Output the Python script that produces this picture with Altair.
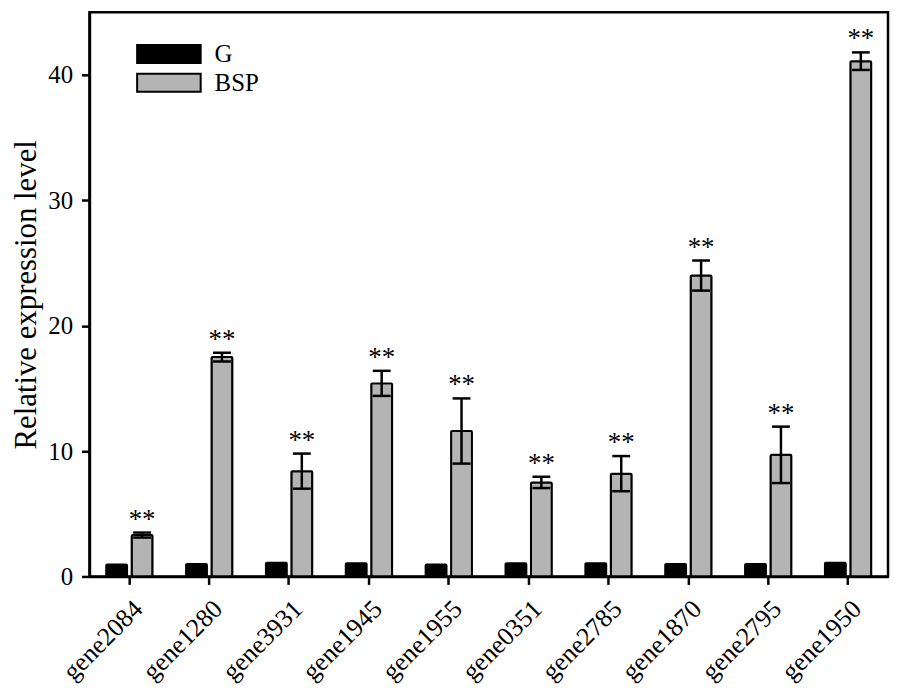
import altair as alt
import pandas as pd

genes = ["gene2084", "gene1280", "gene3931", "gene1945", "gene1955",
         "gene0351", "gene2785", "gene1870", "gene2795", "gene1950"]
groups = ["G", "BSP"]
g_mean = [0.95, 1.0, 1.1, 1.05, 0.95, 1.05, 1.05, 1.0, 1.0, 1.1]
bsp_mean = [3.3, 17.5, 8.4, 15.4, 11.6, 7.5, 8.2, 24.0, 9.7, 41.1]
bsp_err = [0.2, 0.35, 1.4, 1.0, 2.6, 0.45, 1.4, 1.2, 2.25, 0.7]
y_ticks = [0, 10, 20, 30, 40]

rows = []
for i, gname in enumerate(genes):
    rows.append({"gene": gname, "group": "G", "mean": g_mean[i], "err": 0.0})
    rows.append({"gene": gname, "group": "BSP", "mean": bsp_mean[i], "err": bsp_err[i]})
df = pd.DataFrame(rows)

SERIF = "Liberation Serif"
YT = "Relative expression level"

x_enc = alt.X("gene:N", sort=genes, title=None,
              scale=alt.Scale(paddingInner=0.42, paddingOuter=0.21),
              axis=alt.Axis(labelAngle=-45, labelPadding=11, labelFontSize=26))
xo_enc = alt.XOffset("group:N", sort=groups,
                     scale=alt.Scale(domain=groups, paddingInner=0.18, paddingOuter=0))
y_scale = alt.Scale(domain=[0, 45], nice=False, zero=True)

base = alt.Chart(df)

bars = base.mark_bar(stroke="black", strokeWidth=2, strokeJoin="round", cornerRadius=1).encode(
    x=x_enc, xOffset=xo_enc,
    y=alt.Y("mean:Q", scale=y_scale, title=YT,
            axis=alt.Axis(values=y_ticks, labelPadding=9, titlePadding=5)),
    color=alt.Color("group:N", sort=groups,
                    scale=alt.Scale(domain=groups, range=["#000000", "#b4b4b4"]),
                    legend=alt.Legend(title=None, orient="none", legendX=64, legendY=26,
                                      symbolType="M-2.133,-0.6H2.133V0.6H-2.133Z",
                                      symbolSize=900, symbolStrokeColor="black",
                                      symbolStrokeWidth=2, symbolOpacity=1,
                                      labelFont=SERIF, labelFontSize=25, labelColor="black",
                                      labelOffset=30, rowPadding=0, padding=0)),
)

errs = base.transform_filter("datum.group == 'BSP'").transform_calculate(
    lo="datum.mean - datum.err", hi="datum.mean + datum.err")

rule = errs.mark_rule(color="black", strokeWidth=2.5).encode(
    x=x_enc, xOffset=xo_enc,
    y=alt.Y("lo:Q", scale=y_scale, title=YT), y2="hi:Q")
cap_hi = errs.mark_tick(color="black", thickness=2.5, size=18, opacity=1).encode(
    x=x_enc, xOffset=xo_enc, y=alt.Y("hi:Q", scale=y_scale, title=YT))
cap_lo = errs.mark_tick(color="black", thickness=2.5, size=18, opacity=1).encode(
    x=x_enc, xOffset=xo_enc, y=alt.Y("lo:Q", scale=y_scale, title=YT))
stars = errs.mark_text(text="**", font=SERIF, fontSize=27, color="black",
                       baseline="middle", dy=-13).encode(
    x=x_enc, xOffset=xo_enc, y=alt.Y("hi:Q", scale=y_scale, title=YT))

chart = alt.layer(bars, rule, cap_hi, cap_lo, stars).properties(
    width=804, height=568,
    padding={"left": 3, "top": 2, "right": 2, "bottom": 0},
).configure_axis(
    labelFont=SERIF, titleFont=SERIF, labelFontSize=25, titleFontSize=31,
    labelColor="black", titleColor="black", titleFontWeight="normal",
    domainColor="black", tickColor="black", domainWidth=2.5, tickWidth=2.5,
    tickSize=8, grid=False,
).configure_view(stroke="black", strokeWidth=2.5)

chart.save("out.html", embed_options={"renderer": "svg", "actions": False})
